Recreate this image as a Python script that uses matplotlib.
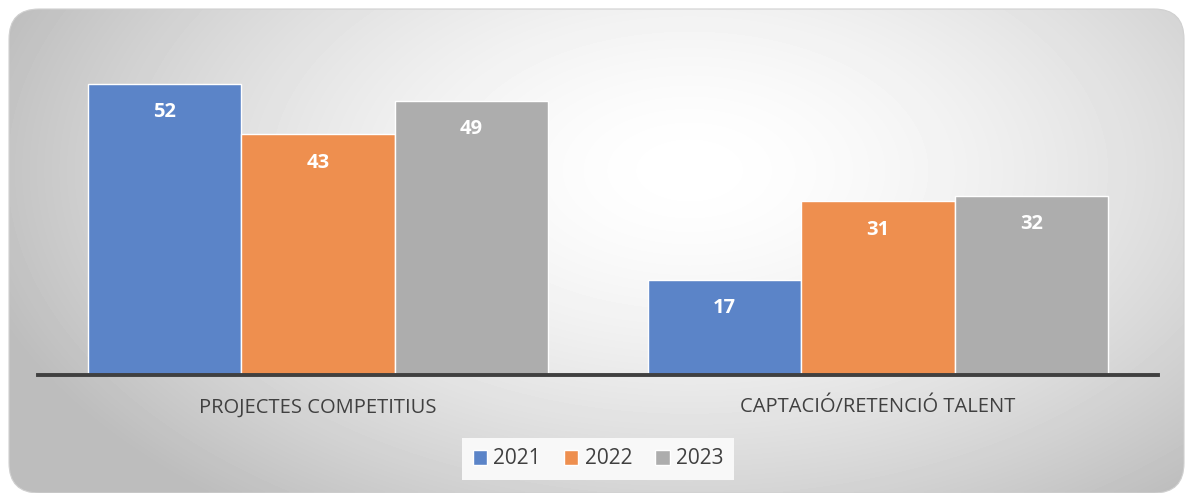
import matplotlib.pyplot as plt
import numpy as np
from matplotlib.patches import FancyBboxPatch

categories = ["PROJECTES COMPETITIUS", "CAPTACIÓ/RETENCIÓ TALENT"]
years = ["2021", "2022", "2023"]
values = {
    "2021": [52, 17],
    "2022": [43, 31],
    "2023": [49, 32],
}
colors = ["#5b84c8", "#ee8f4f", "#adadad"]

W, H = 1186, 493
fig = plt.figure(figsize=(W / 100, H / 100), dpi=100)
fig.patch.set_facecolor("white")

# background with radial gradient in a rounded box
bg = fig.add_axes([0, 0, 1, 1], zorder=0)
bg.set_xlim(0, W)
bg.set_ylim(H, 0)
bg.axis("off")
gx, gy = np.meshgrid(np.linspace(0, W, 300), np.linspace(0, H, 150))
d = np.sqrt(((gx - 690) / 720) ** 2 + ((gy - 170) / 420) ** 2)
shade = np.clip(1 - 0.25 * d ** 1.6, 0.74, 1)
img = bg.imshow(shade, cmap="gray", vmin=0, vmax=1, extent=[0, W, H, 0],
                aspect="auto", interpolation="bilinear")
box = FancyBboxPatch((9, 9), W - 11, H - 9,
                     boxstyle="round,pad=0,rounding_size=30",
                     facecolor="none", edgecolor="#d0d0d0", linewidth=0.8)
bg.add_patch(box)
img.set_clip_path(box)

ax = fig.add_axes([38 / W, (H - 375) / H, 1120 / W, 336 / H], zorder=1)
ax.set_facecolor("none")

x = np.arange(len(categories))
bw = 0.274
for i, yr in enumerate(years):
    pos = x + (i - 1) * bw
    bars = ax.bar(pos, values[yr], width=bw, color=colors[i],
                  edgecolor="white", linewidth=1.0, label=yr)
    for xp, v in zip(pos, values[yr]):
        ax.annotate(str(v), (xp, v), xytext=(0, -20.5), textcoords="offset points",
                    ha="center", va="center", color="white", fontsize=14.5,
                    fontweight="bold", family="Open Sans")

ax.set_xlim(-0.5, 1.5)
ax.set_ylim(0, 60)
for s in ["top", "left", "right"]:
    ax.spines[s].set_visible(False)
ax.spines["bottom"].set_color("#404040")
ax.spines["bottom"].set_linewidth(2.8)
ax.set_yticks([])
ax.set_xticks(x)
ax.set_xticklabels(categories, fontsize=14.5, color="#404040", family="Open Sans")
ax.tick_params(axis="x", length=0, pad=16)

leg = fig.legend(loc="center", bbox_to_anchor=(598 / W, 1 - 459 / H), ncol=3,
                 frameon=True, fancybox=False, handlelength=0.7, handleheight=0.7,
                 handletextpad=0.3, columnspacing=1.1, borderpad=0.5,
                 prop={"family": "Open Sans", "size": 15})
leg.get_frame().set_facecolor("#f8f8f8")
leg.get_frame().set_edgecolor("none")
leg.get_frame().set_alpha(1)
for t in leg.get_texts():
    t.set_color("#404040")

fig.savefig("out.png", dpi=100)
